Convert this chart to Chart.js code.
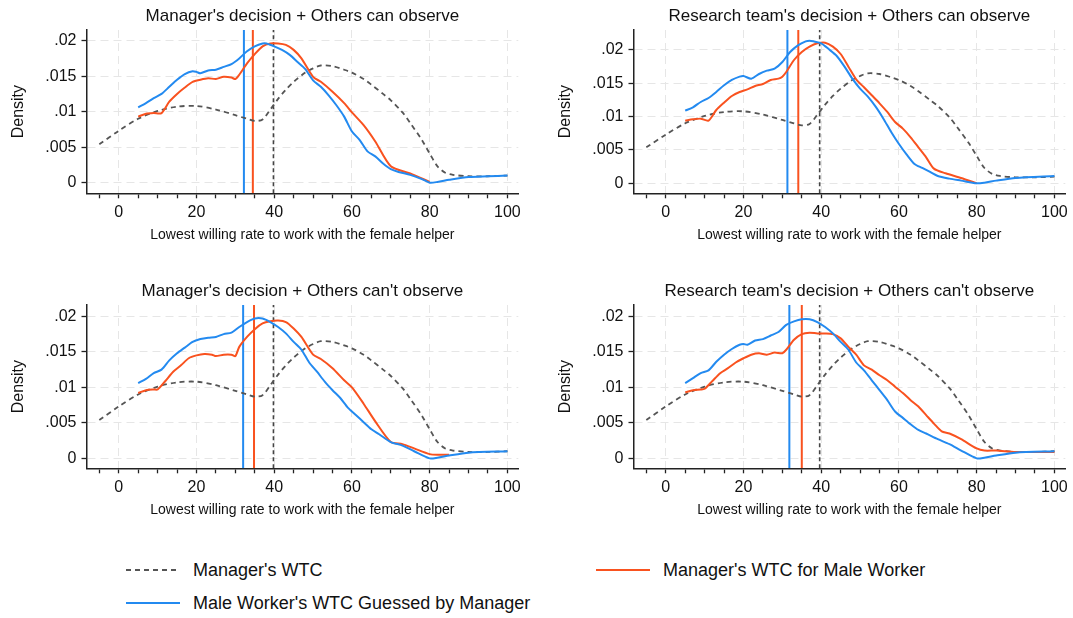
<!DOCTYPE html>
<html><head><meta charset="utf-8">
<script src="https://cdn.jsdelivr.net/npm/chart.js@4.4.1/dist/chart.umd.min.js"></script>
<style>
body{margin:0;background:#fff;width:1073px;height:618px;overflow:hidden;position:relative;font-family:"Liberation Sans",Arial,sans-serif;}
canvas.pc{position:absolute;}
.pt{position:absolute;font-size:17px;color:#111;white-space:nowrap;transform:translate(-50%,-50%);}
.lg{position:absolute;font-size:18px;color:#111;white-space:nowrap;transform:translateY(-50%);}
</style></head><body>
<script>
// ---------- data ----------
const panelTitles = [
  "Manager's decision + Others can observe",
  "Research team's decision + Others can observe",
  "Manager's decision + Others can't observe",
  "Research team's decision + Others can't observe"
];
const xTitle = "Lowest willing rate to work with the female helper";
const yTitle = "Density";
const legendLabels = ["Manager's WTC", "Manager's WTC for Male Worker", "Male Worker's WTC Guessed by Manager"];
const xTicks = [-5,0,5,10,15,20,25,30,35,40,45,50,55,60,65,70,75,80,85,90,95,100];
const yTickVals = [0, .005, .01, .015, .02];
const yTickLabels = ["0", ".005", ".01", ".015", ".02"];
const xMin = -8.3, xMax = 102.8;
const yMaxs = [.0215, .0230, .0216, .0216];
const yMins = [-.0015, -.0015, -.0014, -.0014];

// vertical reference lines (x values) per panel
const vGray   = [39.8, 39.6, 39.8, 39.6];
const vOrange = [34.5, 34.1, 34.8, 35.0];
const vBlue   = [32.2, 31.3, 32.0, 31.8];

// Manager's WTC (same in every panel)
const mgrWTC = [[-5,.0054],[0,.0073],[5,.0090],[10,.0101],[15,.0107],[20,.0108],[25,.0103],[30,.0095],[33,.0090],[35,.0087],[37,.0089],[39,.0103],[41,.0118],[43,.0131],[45,.0142],[48,.0155],[50,.0161],[52,.0165],[55,.0164],[58,.0159],[60,.0155],[63,.0146],[65,.0138],[68,.0125],[70,.0116],[73,.0099],[75,.0084],[78,.0060],[80,.0041],[82,.0023],[84,.0014],[86,.0011],[90,.0009],[95,.0009],[100,.0010]];

// Panel 1: Manager's decision + Others can observe
const p1Orange = [[5,.0093],[7,.0097],[9,.0098],[11,.0098],[13,.0114],[15,.0125],[17,.0134],[19,.0142],[21,.0145],[23,.0147],[25,.0146],[27,.0149],[29,.0148],[30,.0146],[31,.0152],[33,.0168],[35,.0181],[37,.0192],[39,.0196],[41,.0196],[43,.0194],[45,.0187],[47,.0175],[50,.0149],[52,.0142],[55,.0128],[58,.0112],[60,.0099],[63,.0081],[66,.0058],[70,.0023],[75,.0013],[80,.0001]];
const p1Blue = [[5,.0106],[7,.0112],[9,.0119],[11,.0125],[13,.0135],[15,.0145],[17,.0153],[19,.0157],[20,.0156],[21,.0154],[23,.0158],[25,.0159],[27,.0163],[29,.0167],[31,.0175],[33,.0185],[35,.0192],[37,.0196],[38,.0196],[40,.0192],[42,.0187],[44,.0180],[46,.0170],[48,.0160],[50,.0144],[52,.0135],[54,.0123],[56,.0109],[58,.0093],[60,.0072],[62,.0060],[64,.0044],[66,.0037],[68,.0027],[70,.0019],[72,.0015],[75,.0011],[78,.0005],[80,.0000],[82,.0001],[85,.0004],[90,.0008],[95,.0009],[100,.0010]];

// Panel 2: Research team's decision + Others can observe
const p2Orange = [[5,.0094],[7,.0096],[9,.0097],[11,.0094],[13,.0110],[15,.0121],[17,.0131],[19,.0137],[21,.0141],[23,.0146],[25,.0149],[27,.0155],[29,.0157],[30,.0160],[31,.0167],[33,.0185],[35,.0197],[37,.0205],[39,.0210],[41,.0211],[43,.0205],[45,.0194],[47,.0175],[49,.0156],[51,.0144],[53,.0132],[55,.0120],[57,.0107],[59,.0092],[61,.0082],[63,.0069],[65,.0054],[67,.0039],[69,.0022],[72,.0015],[76,.0008],[80,.0000]];
const p2Blue = [[5,.0109],[7,.0114],[9,.0122],[11,.0128],[13,.0137],[15,.0147],[17,.0155],[19,.0160],[20,.0161],[22,.0157],[24,.0164],[26,.0169],[28,.0172],[30,.0182],[32,.0197],[34,.0207],[36,.0213],[37,.0214],[38,.0213],[40,.0210],[42,.0201],[44,.0191],[46,.0175],[48,.0157],[50,.0142],[52,.0130],[54,.0115],[56,.0097],[58,.0077],[60,.0059],[62,.0043],[64,.0029],[66,.0023],[68,.0017],[70,.0011],[73,.0007],[76,.0004],[80,.0000],[82,.0001],[85,.0004],[90,.0008],[100,.0011]];

// Panel 3: Manager's decision + Others can't observe
const p3Orange = [[5,.0092],[7,.0096],[9,.0097],[10,.0097],[12,.0109],[14,.0122],[16,.0131],[18,.0141],[20,.0145],[22,.0147],[24,.0146],[25,.0144],[27,.0146],[29,.0146],[30,.0144],[31,.0157],[33,.0171],[35,.0182],[37,.0190],[39,.0193],[41,.0194],[43,.0192],[45,.0183],[47,.0171],[50,.0146],[52,.0140],[55,.0127],[58,.0110],[60,.0100],[63,.0077],[66,.0052],[70,.0023],[73,.0020],[76,.0014],[80,.0006],[82,.0005],[85,.0005]];
const p3Blue = [[5,.0106],[7,.0112],[9,.0120],[11,.0125],[13,.0138],[15,.0148],[17,.0156],[19,.0164],[21,.0168],[23,.0170],[25,.0171],[27,.0175],[29,.0177],[31,.0185],[33,.0192],[35,.0197],[37,.0197],[39,.0192],[41,.0185],[43,.0176],[45,.0164],[47,.0153],[49,.0135],[51,.0122],[53,.0108],[55,.0096],[57,.0085],[59,.0071],[61,.0061],[63,.0051],[65,.0041],[67,.0034],[70,.0023],[73,.0018],[76,.0010],[80,.0000],[82,.0001],[85,.0004],[90,.0008],[100,.0010]];

// Panel 4: Research team's decision + Others can't observe
const p4Orange = [[5,.0093],[7,.0096],[9,.0097],[10,.0098],[12,.0109],[14,.0120],[16,.0127],[18,.0135],[20,.0141],[22,.0146],[24,.0148],[26,.0146],[28,.0149],[30,.0148],[31,.0153],[33,.0167],[35,.0175],[37,.0177],[39,.0176],[41,.0176],[43,.0175],[45,.0169],[47,.0157],[49,.0146],[51,.0131],[53,.0125],[55,.0117],[57,.0110],[59,.0101],[61,.0092],[63,.0082],[65,.0073],[67,.0061],[69,.0049],[71,.0038],[73,.0035],[76,.0027],[80,.0014],[82,.0011],[85,.0011],[90,.0009],[100,.0009]];
const p4Blue = [[5,.0106],[7,.0113],[9,.0120],[11,.0124],[13,.0136],[15,.0146],[17,.0154],[19,.0160],[20,.0161],[21,.0160],[23,.0166],[25,.0168],[27,.0173],[29,.0178],[31,.0188],[33,.0193],[35,.0196],[37,.0196],[39,.0192],[41,.0185],[43,.0176],[45,.0164],[47,.0153],[49,.0135],[51,.0124],[53,.0110],[55,.0096],[57,.0082],[59,.0066],[61,.0057],[63,.0048],[65,.0040],[67,.0035],[70,.0027],[73,.0020],[76,.0011],[80,.0000],[82,.0001],[85,.0004],[90,.0008],[100,.0010]];

const orangeSeries = [p1Orange, p2Orange, p3Orange, p4Orange];
const blueSeries = [p1Blue, p2Blue, p3Blue, p4Blue];

// ---------- styles / layout ----------
const F = '"Liberation Sans", Arial, sans-serif';
const C_GRAY = '#555555', C_ORANGE = '#f9521f', C_BLUE = '#238af0';
const canvasLeft = [0, 547, 0, 547];
const canvasTop = [0, 0, 275, 275];
const CW = 526, CH = 250;
const plotLeft = 86.5, plotRight = 518.3, plotTop = 30, plotBottom = 193.3;

const toXY = arr => arr.map(p => ({x: p[0], y: p[1]}));

for (let i = 0; i < 4; i++) {
  const cv = document.createElement('canvas');
  cv.className = 'pc';
  cv.width = CW; cv.height = CH;
  cv.style.left = canvasLeft[i] + 'px';
  cv.style.top = canvasTop[i] + 'px';
  cv.style.width = CW + 'px'; cv.style.height = CH + 'px';
  document.body.appendChild(cv);

  const t = document.createElement('div');
  t.className = 'pt';
  t.textContent = panelTitles[i];
  t.style.left = (canvasLeft[i] + (plotLeft + plotRight) / 2) + 'px';
  t.style.top = (canvasTop[i] + 16) + 'px';
  document.body.appendChild(t);

  const yMin = yMins[i], yMax = yMaxs[i];
  const vline = (v, color, dash, width, ord) => ({
    data: [{x: v, y: yMin}, {x: v, y: yMax}],
    borderColor: color, borderWidth: width, borderDash: dash,
    pointRadius: 0, tension: 0, order: ord
  });

  new Chart(cv, {
    type: 'line',
    data: {
      datasets: [
        {data: toXY(blueSeries[i]), borderColor: C_BLUE, borderWidth: 2, pointRadius: 0, tension: 0.25, order: 0},
        {data: toXY(orangeSeries[i]), borderColor: C_ORANGE, borderWidth: 2, pointRadius: 0, tension: 0.25, order: 1},
        {data: toXY(mgrWTC), borderColor: C_GRAY, borderWidth: 1.8, borderDash: [5, 4], pointRadius: 0, tension: 0.3, order: 2},
        vline(vBlue[i], C_BLUE, [], 2, 3),
        vline(vOrange[i], C_ORANGE, [], 2, 3),
        vline(vGray[i], '#444444', [4, 3], 1.6, 3)
      ]
    },
    options: {
      responsive: false, animation: false, devicePixelRatio: 1,
      layout: {padding: {left: 0, right: CW - plotRight, top: plotTop, bottom: 0}},
      plugins: {legend: {display: false}, tooltip: {enabled: false}, title: {display: false}},
      scales: {
        x: {
          type: 'linear', min: xMin, max: xMax,
          afterBuildTicks: s => { s.ticks = xTicks.map(v => ({value: v})); },
          afterFit: s => { s.height = CH - plotBottom; },
          ticks: {autoSkip: false, maxRotation: 0, minRotation: 0, padding: 5, color: '#111',
                  font: {size: 16, family: F},
                  callback: v => (v % 20 === 0 ? String(v) : '')},
          grid: {color: c => (c.tick && c.tick.value % 20 === 0 ? '#e6e6e6' : 'rgba(0,0,0,0)'),
                 lineWidth: 1, tickColor: '#222', tickLength: 5, tickWidth: 1.3, tickBorderDash: []},
          border: {display: true, color: '#222', width: 1.5, dash: [8, 5]},
          title: {display: true, text: xTitle, color: '#111', font: {size: 14, family: F}, padding: {top: 0, bottom: 6.6}}
        },
        y: {
          type: 'linear', min: yMin, max: yMax,
          afterBuildTicks: s => { s.ticks = yTickVals.map(v => ({value: v})); },
          afterFit: s => { s.width = plotLeft; },
          ticks: {autoSkip: false, padding: 5, color: '#111', font: {size: 16, family: F},
                  callback: v => yTickLabels[yTickVals.indexOf(v)]},
          grid: {color: '#e6e6e6', lineWidth: 1, tickColor: '#222', tickLength: 5, tickWidth: 1.3, tickBorderDash: []},
          border: {display: true, color: '#222', width: 1.5, dash: [8, 5]},
          title: {display: true, text: yTitle, color: '#111', font: {size: 16, family: F}, padding: {top: 9, bottom: 0}}
        }
      }
    }
  });
}

// ---------- legend ----------
const legendItems = [
  {label: legendLabels[0], color: C_GRAY, dash: '5,4', x: 126, y: 570},
  {label: legendLabels[1], color: C_ORANGE, dash: '', x: 596, y: 570},
  {label: legendLabels[2], color: C_BLUE, dash: '', x: 126, y: 603}
];
const svgNS = 'http://www.w3.org/2000/svg';
const svg = document.createElementNS(svgNS, 'svg');
svg.setAttribute('width', 1073); svg.setAttribute('height', 618);
svg.style.position = 'absolute'; svg.style.left = '0'; svg.style.top = '0';
legendItems.forEach(it => {
  const ln = document.createElementNS(svgNS, 'line');
  ln.setAttribute('x1', it.x); ln.setAttribute('x2', it.x + 54);
  ln.setAttribute('y1', it.y); ln.setAttribute('y2', it.y);
  ln.setAttribute('stroke', it.color); ln.setAttribute('stroke-width', 2);
  if (it.dash) ln.setAttribute('stroke-dasharray', it.dash);
  svg.appendChild(ln);
  const d = document.createElement('div');
  d.className = 'lg'; d.textContent = it.label;
  d.style.left = (it.x + 67) + 'px'; d.style.top = it.y + 'px';
  document.body.appendChild(d);
});
document.body.appendChild(svg);
</script>
</body></html>
